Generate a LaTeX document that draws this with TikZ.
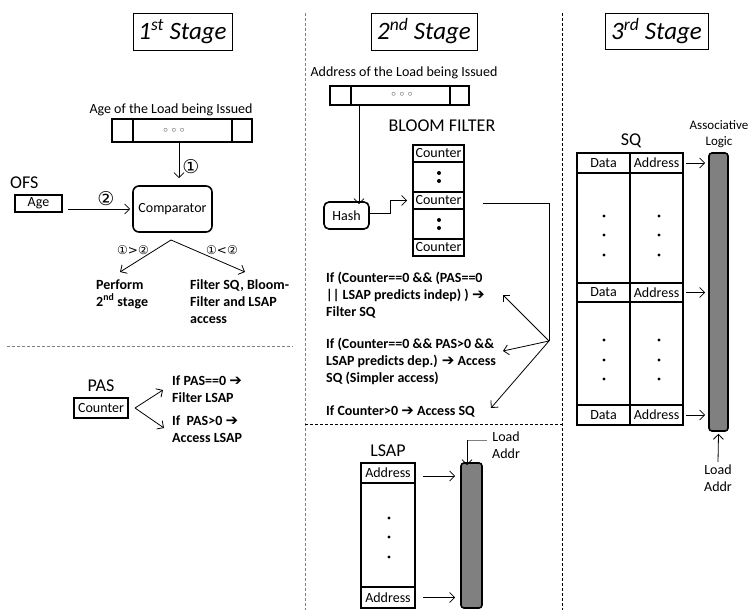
\documentclass[tikz,border=0pt]{standalone}
\usepackage{fontspec}
\setmainfont{Carlito}
\newfontfamily\dejavu{DejaVu Sans}
\usetikzlibrary{arrows.meta}
\newcommand{\rarr}{{\dejavu\bfseries\fontsize{15}{15}\selectfont ➔}}
\newcommand{\cn}[1]{{\dejavu\fontsize{19}{19}\selectfont #1}}
\newcommand{\scn}[1]{{\dejavu\fontsize{12}{12}\selectfont #1}}
\begin{document}
\begin{tikzpicture}[x=1pt,y=-1pt,
  box/.style={draw, line width=1.6pt, inner sep=0pt, font=\fontsize{14}{16}\selectfont},
  rbox/.style={box, rounded corners=6pt},
  arr/.style={-{Straight Barb[length=5pt,width=10pt]}, line width=0.8pt},
  thinline/.style={line width=0.8pt},
  txt/.style={font=\fontsize{14}{17}\selectfont, inner sep=0pt, align=center},
  btxt/.style={font=\fontsize{14}{17}\selectfont\bfseries, inner sep=0pt, align=left, anchor=west},
  big/.style={font=\fontsize{18}{20}\selectfont, inner sep=0pt},
  stitle/.style={draw, line width=0.7pt, font=\fontsize{25}{27}\selectfont\itshape, inner sep=0pt},
  bar/.style={draw, line width=1.6pt, fill=black!50, rounded corners=3pt, inner sep=0pt},
  dot/.style={circle, fill=black, inner sep=0pt, minimum size=3.2pt},
  bdot/.style={circle, fill=black, inner sep=0pt, minimum size=4pt},
  gdash/.style={gray, line width=0.8pt, dash pattern=on 3pt off 2pt},
  kdash/.style={black, line width=0.8pt, dash pattern=on 3pt off 2pt},
  regdots/.style={font=\small, text=black!70, inner sep=0pt}
]
\useasboundingbox (0,0) rectangle (752,610);

% ---------- titles
\node[stitle, minimum width=99, minimum height=37] (t1) at (182.5,31.5) {1\textsuperscript{st} Stage};
\node[stitle, minimum width=106, minimum height=37] (t2) at (424,31.5) {2\textsuperscript{nd} Stage};
\node[stitle, minimum width=103, minimum height=36] (t3) at (656.5,31) {3\textsuperscript{rd} Stage};

% ---------- dividers
\draw[gdash] (305,13) -- (305,610);
\draw[kdash] (562,13) -- (562,610);
\draw[gdash] (7,346) -- (293,346);
\draw[kdash] (305,424) -- (562,424);

% ---------- stage 1 upper
\node[txt] (agetxt) at (171,110) {Age of the Load being Issued};
\node[box, minimum width=21, minimum height=23] (r1l) at (122.5,130.5) {};
\node[box, minimum width=99, minimum height=23] (r1m) at (182.5,130.5) {};
\node[box, minimum width=20, minimum height=23] (r1r) at (242,130.5) {};
\node[regdots] (r1d) at (174,130) {$\circ\,\circ\,\circ$};

\node[rbox, minimum width=79, minimum height=46] (cmp) at (172.5,209) {Comparator};
\draw[arr] ([xshift=-3.5pt]r1m.south) -- ([xshift=6.5pt,yshift=7pt]cmp.north);
\node[inner sep=0pt] (c1) at (191,167) {\cn{①}};

\node[big, anchor=west] (ofs) at (10,183) {OFS};
\node[box, minimum width=47, minimum height=17] (agebox) at (38.5,203.5) {Age};
\coordinate (a2s) at (68,209);
\draw[arr] (a2s) -- ([xshift=-2pt]cmp.west |- a2s);
\node[inner sep=0pt] (c2) at (106,199) {\cn{②}};

\coordinate (apex) at (171,240);
\coordinate (pend) at (120,272);
\coordinate (fend) at (245,272);
\draw[arr] (apex) -- (pend);
\draw[arr] (apex) -- (fend);
\node[inner sep=0pt] (gt) at (133,250) {\scn{①>②}};
\node[inner sep=0pt] (lt) at (222,250) {\scn{①<②}};
\node[btxt] (perf) at (96,294) {Perform\\2\textsuperscript{nd} stage};
\node[btxt] (filt) at (190,302) {Filter SQ, Bloom-\\Filter and LSAP\\access};

% ---------- stage 1 lower
\node[big] (pas) at (101,386) {PAS};
\node[box, minimum width=54, minimum height=20] (pasc) at (101,408) {Counter};
\coordinate (pfork) at (135,408);
\coordinate (pup) at (163,390);
\coordinate (pdn) at (164,428);
\draw[arr] (pfork) -- (pup);
\draw[arr] (pfork) -- (pdn);
\node[btxt] (pas0) at (172,389.5) {If PAS==0 \rarr\\Filter LSAP};
\node[btxt] (pas1) at (172,429.5) {If~ PAS>0 \rarr\\Access LSAP};

% ---------- stage 2 upper
\node[txt] (addrtxt) at (404,73) {Address of the Load being Issued};
\node[box, minimum width=21, minimum height=19] (r2l) at (340.5,95.5) {};
\node[box, minimum width=99, minimum height=19] (r2m) at (400.5,95.5) {};
\node[box, minimum width=19, minimum height=19] (r2r) at (459.5,95.5) {};
\node[regdots] (r2d) at (402,94) {$\circ\,\circ\,\circ$};

\node[rbox, minimum width=45, minimum height=27, rounded corners=5pt] (hash) at (346.5,215.5) {Hash};
\draw[arr] (359,105) -- ([xshift=12.5pt,yshift=-3pt]hash.north);

\node[big] (bft) at (442,126) {BLOOM FILTER};
\node[box, minimum width=51, minimum height=17] (bf1) at (438.5,153.5) {Counter};
\node[box, minimum width=51, minimum height=30] (bfd1) at (438.5,177) {};
\node[box, minimum width=51, minimum height=17] (bf2) at (438.5,200.5) {Counter};
\node[box, minimum width=51, minimum height=30] (bfd2) at (438.5,224) {};
\node[box, minimum width=51, minimum height=17] (bf3) at (438.5,247.5) {Counter};
\node[bdot] (bc1) at (439,173) {};
\node[bdot] (bc2) at (439,181) {};
\node[bdot] (bc3) at (439,220) {};
\node[bdot] (bc4) at (439,228) {};
\draw[arr] (hash.east |- 0,213) -- (390,213) |- ([xshift=-5pt]bf2.west);

\coordinate (bfs) at (483,203);
\coordinate (hub) at (549,341);
\draw[thinline] (bfs) -| (hub);
\coordinate (ea) at (503,295);
\coordinate (eb) at (503,351);
\coordinate (ec) at (491,408);
\draw[arr] (hub) -- (ea);
\draw[arr] (hub) -- (eb);
\draw[arr] (hub) -- (ec);
\node[btxt] (ca) at (326,295.5) {If (Counter==0 \&\& (PAS==0\\|| LSAP predicts indep) ) \rarr\\Filter SQ};
\node[btxt] (cb) at (326,361.5) {If (Counter==0 \&\& PAS>0 \&\&\\LSAP predicts dep.) \rarr\ Access\\SQ (Simpler access)};
\node[btxt] (cc) at (326,412) {If Counter>0 \rarr\ Access SQ};

% ---------- stage 2 lower (LSAP)
\node[big] (lsapt) at (388,451) {LSAP};
\node[box, minimum width=54, minimum height=20] (ls1) at (388,473) {Address};
\node[box, minimum width=54, minimum height=104] (lsd) at (388,535) {};
\node[box, minimum width=54, minimum height=21] (ls2) at (388,597.5) {Address};
\node[dot] (ld1) at (389,518) {};
\node[dot] (ld2) at (389,537) {};
\node[dot] (ld3) at (389,557) {};
\node[bar, minimum width=21, minimum height=145] (lbar) at (471.5,535.5) {};
\draw[arr] ([xshift=7pt,yshift=-3pt]ls1.east) -- ([xshift=-5pt]lbar.west |- 0,476);
\draw[arr] ([xshift=7pt]ls2.east) -- ([xshift=-5pt]lbar.west |- ls2.east);
\node[txt, anchor=north west] (lla) at (492,432) {Load\\Addr};
\coordinate (llc) at (467,440);
\draw[gray, thinline] (487,440) -- (llc);
\draw[arr] (llc) -- ([yshift=-3pt]lbar.north -| llc);

% ---------- stage 3
\node[big] (sqt) at (631,141) {SQ};
\node[txt, font=\fontsize{13}{16}\selectfont] (assoc) at (719,134) {Associative\\Logic};
\node[box, minimum width=53, minimum height=20] (d1) at (603.5,163) {Data};
\node[box, minimum width=53, minimum height=20] (a1) at (656.5,163) {Address};
\node[box, minimum width=53, minimum height=110] (dd1) at (603.5,228) {};
\node[box, minimum width=53, minimum height=110] (ad1) at (656.5,228) {};
\node[box, minimum width=53, minimum height=19] (d2) at (603.5,292.5) {Data};
\node[box, minimum width=53, minimum height=19] (a2) at (656.5,292.5) {Address};
\node[box, minimum width=53, minimum height=103] (dd2) at (603.5,353.5) {};
\node[box, minimum width=53, minimum height=103] (ad2) at (656.5,353.5) {};
\node[box, minimum width=53, minimum height=20] (d3) at (603.5,415) {Data};
\node[box, minimum width=53, minimum height=20] (a3) at (656.5,415) {Address};
\foreach \yy [count=\i] in {216,235,255,340,360,379}{
  \node[dot] (sdl\i) at (604,\yy) {};
  \node[dot] (sdr\i) at (659,\yy) {};
}
\node[bar, minimum width=19, minimum height=278] (sbar) at (718.5,292) {};
\draw[arr] ([xshift=2pt]a1.east) -- ([xshift=-3pt]sbar.west |- a1.east);
\draw[arr] ([xshift=2pt]a2.east) -- ([xshift=-3pt]sbar.west |- a2.east);
\draw[arr] ([xshift=2pt]a3.east) -- ([xshift=-3pt]sbar.west |- a3.east);
\node[txt] (sla) at (718,478.5) {Load\\Addr};
\draw[arr] ([yshift=3pt]sla.north) -- ([yshift=-2pt]sbar.south);
\end{tikzpicture}
\end{document}
